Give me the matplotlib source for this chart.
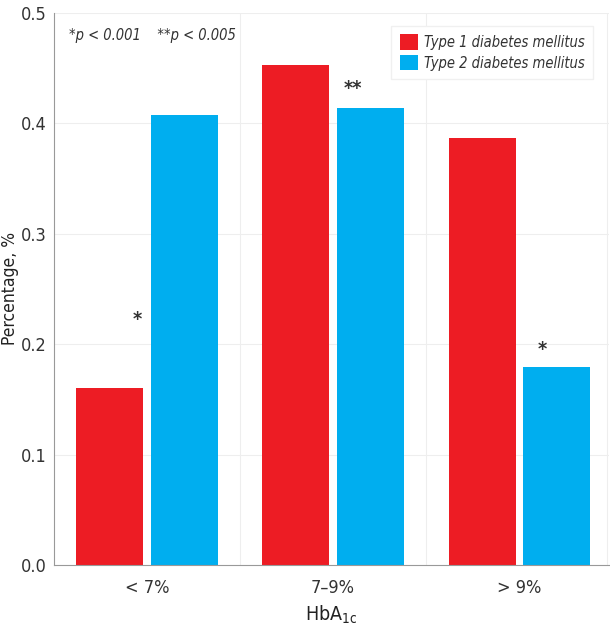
import matplotlib
matplotlib.use('Agg')
import matplotlib.pyplot as plt
import numpy as np

plt.rcParams['font.family'] = ['DejaVu Sans']
plt.rcParams['font.stretch'] = 'condensed'

groups = ['< 7%', '7\u20139%', '> 9%']
type1 = [0.160, 0.453, 0.387]
type2 = [0.407, 0.414, 0.179]
# significance marks: (x in category units, y, text)
marks = [(-0.05, 0.222, '*'), (1.105, 0.431, '**'), (2.125, 0.195, '*')]

red = '#ed1c24'
blue = '#00aeef'

fig = plt.figure(figsize=(6.1, 6.37), dpi=100)
ax = fig.add_axes([0.088, 0.113, 0.91, 0.867])

x = np.arange(len(groups))
w = 0.36
ax.bar(x - 0.2, type1, width=w, color=red, label='Type 1 diabetes mellitus', zorder=2)
ax.bar(x + 0.2, type2, width=w, color=blue, label='Type 2 diabetes mellitus', zorder=2)

for mx, my, t in marks:
    ax.text(mx, my, t, ha='center', va='center', fontsize=14, color='#333333',
            fontweight='bold', zorder=5)

ax.set_xlim(-0.5, 2.48)
ax.set_ylim(0, 0.5)
ax.set_yticks([0, 0.1, 0.2, 0.3, 0.4, 0.5])
ax.set_yticklabels(['0.0', '0.1', '0.2', '0.3', '0.4', '0.5'])
ax.set_xticks(x)
ax.set_xticklabels(groups)
ax.tick_params(axis='both', length=0, labelsize=13, colors='#333333', pad=10)
ax.tick_params(axis='y', pad=5)

for yv in [0.1, 0.2, 0.3, 0.4, 0.5]:
    ax.axhline(yv, color='#eeeeee', lw=0.8, zorder=0)
for xv in [0.5, 1.5, 2.47]:
    ax.axvline(xv, color='#eeeeee', lw=0.8, zorder=0)

for s in ['top', 'right']:
    ax.spines[s].set_visible(False)
ax.spines['left'].set_color('#999999')
ax.spines['bottom'].set_color('#999999')

ax.set_ylabel('Percentage, %', fontsize=12.5, color='#222222')
ax.yaxis.set_label_coords(-0.062, 0.5)
ax.set_xlabel('HbA$_{\\mathregular{1c}}$', fontsize=14, color='#222222', labelpad=5)

ax.text(0.028, 0.972, '*p < 0.001    **p < 0.005', transform=ax.transAxes,
        fontsize=10.5, style='italic', color='#333333', va='top', ha='left')

leg = ax.legend(loc='upper right', bbox_to_anchor=(0.985, 0.99),
                prop={'style': 'italic', 'size': 10.5}, handlelength=1.25, handleheight=1.25,
                frameon=True, fancybox=False, edgecolor='#f0f0f0', framealpha=1,
                borderpad=0.6, handletextpad=0.4, labelspacing=0.35)
for t in leg.get_texts():
    t.set_color('#333333')

fig.savefig('out.png', dpi=100)
